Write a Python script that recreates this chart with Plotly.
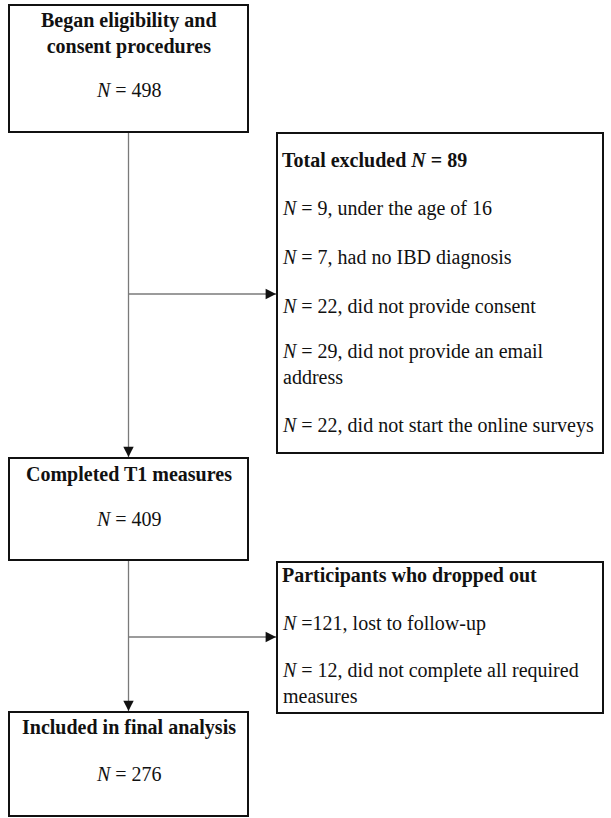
import plotly.graph_objects as go

# ---- data ----
stage_titles = ["Began eligibility and<br>consent procedures", "Completed T1 measures", "Included in final analysis"]
stage_n = [498, 409, 276]

excluded_total = 89
excluded_n = [9, 7, 22, 29, 22]
excluded_reasons = ["under the age of 16", "had no IBD diagnosis", "did not provide consent",
                    "did not provide an email<br>address", "did not start the online surveys"]

dropout_title = "Participants who dropped out"
dropout_n = [121, 12]
dropout_reasons = ["lost to follow-up", "did not complete all required<br>measures"]

W, H = 611, 818
FONT = "Liberation Serif, Times New Roman, serif"
FS = 20
fig = go.Figure()

# layout geometry
main_boxes = [(9, 248, 5, 132), (9, 248, 458, 560), (9, 248, 712, 816)]
side_boxes = [(277, 603, 133, 453), (277, 603, 562, 713)]
title_y = [[21, 46], [474], [727]]
n_y = [90, 519, 774]

shapes = []
for (x0, x1, y0, y1) in main_boxes + side_boxes:
    shapes.append(dict(type="rect", x0=x0, x1=x1, y0=y0, y1=y1, xref="x", yref="y",
                       line=dict(color="#111", width=2), fillcolor="white", layer="below"))

annotations = []
cx = 128.5
# main box texts
for i, t in enumerate(stage_titles):
    ys = title_y[i]
    yc = sum(ys) / len(ys)
    annotations.append(dict(x=cx, y=yc, text="<b>" + t + "</b>", showarrow=False, xref="x", yref="y",
                            font=dict(family=FONT, size=FS, color="#111"), align="center",
                            xanchor="center", yanchor="middle"))
    annotations.append(dict(x=cx, y=n_y[i], text="<i>N</i> = %d" % stage_n[i], showarrow=False,
                            xref="x", yref="y", font=dict(family=FONT, size=FS, color="#111"),
                            xanchor="center", yanchor="middle"))

# side box 1 texts
tx = 280
annotations.append(dict(x=tx, y=160, text="<b>Total excluded <i>N</i> = %d</b>" % excluded_total,
                        showarrow=False, xref="x", yref="y", xanchor="left", yanchor="middle",
                        font=dict(family=FONT, size=FS, color="#111")))
ex_y = [208, 257, 306, 363.5, 425]
for n, r, y in zip(excluded_n, excluded_reasons, ex_y):
    annotations.append(dict(x=tx, y=y, text="<i>N</i> = %d, %s" % (n, r), showarrow=False,
                            xref="x", yref="y", xanchor="left", yanchor="middle", align="left",
                            font=dict(family=FONT, size=FS, color="#111")))

# side box 2 texts
annotations.append(dict(x=tx, y=575, text="<b>" + dropout_title + "</b>", showarrow=False,
                        xref="x", yref="y", xanchor="left", yanchor="middle",
                        font=dict(family=FONT, size=FS, color="#111")))
dr_y = [623, 682.5]
dr_fmt = ["<i>N</i> =%d, %s", "<i>N</i> = %d, %s"]
for n, r, y, f in zip(dropout_n, dropout_reasons, dr_y, dr_fmt):
    annotations.append(dict(x=tx, y=y, text=f % (n, r), showarrow=False,
                            xref="x", yref="y", xanchor="left", yanchor="middle", align="left",
                            font=dict(family=FONT, size=FS, color="#111")))

# connectors: gray line + black filled arrowhead
def connector(x0, y0, x1, y1):
    shapes.append(dict(type="line", x0=x0, y0=y0, x1=x1, y1=y1, xref="x", yref="y",
                       line=dict(color="#7a7a7a", width=1.3), layer="above"))
    dx = 0 if x1 == x0 else (1 if x1 > x0 else -1)
    dy = 0 if y1 == y0 else (1 if y1 > y0 else -1)
    annotations.append(dict(x=x1, y=y1, ax=x1 - 6 * dx, ay=y1 - 6 * dy, xref="x", yref="y",
                            axref="x", ayref="y", text="", showarrow=True, arrowhead=2,
                            arrowsize=1.15, arrowwidth=1.8, arrowcolor="#111", standoff=0))

connector(cx, 133, cx, 457)
connector(cx, 294, 276, 294)
connector(cx, 561, cx, 711)
connector(cx, 637, 276, 637)

fig.update_layout(
    width=W, height=H, margin=dict(l=0, r=0, t=0, b=0),
    paper_bgcolor="white", plot_bgcolor="white",
    xaxis=dict(range=[0, W], visible=False, fixedrange=True),
    yaxis=dict(range=[H, 0], visible=False, fixedrange=True),
    shapes=shapes, annotations=annotations, showlegend=False,
)
fig.write_html("out.html", config={"displayModeBar": False},
               post_script="document.body.style.margin='0';document.body.style.overflow='hidden';")
